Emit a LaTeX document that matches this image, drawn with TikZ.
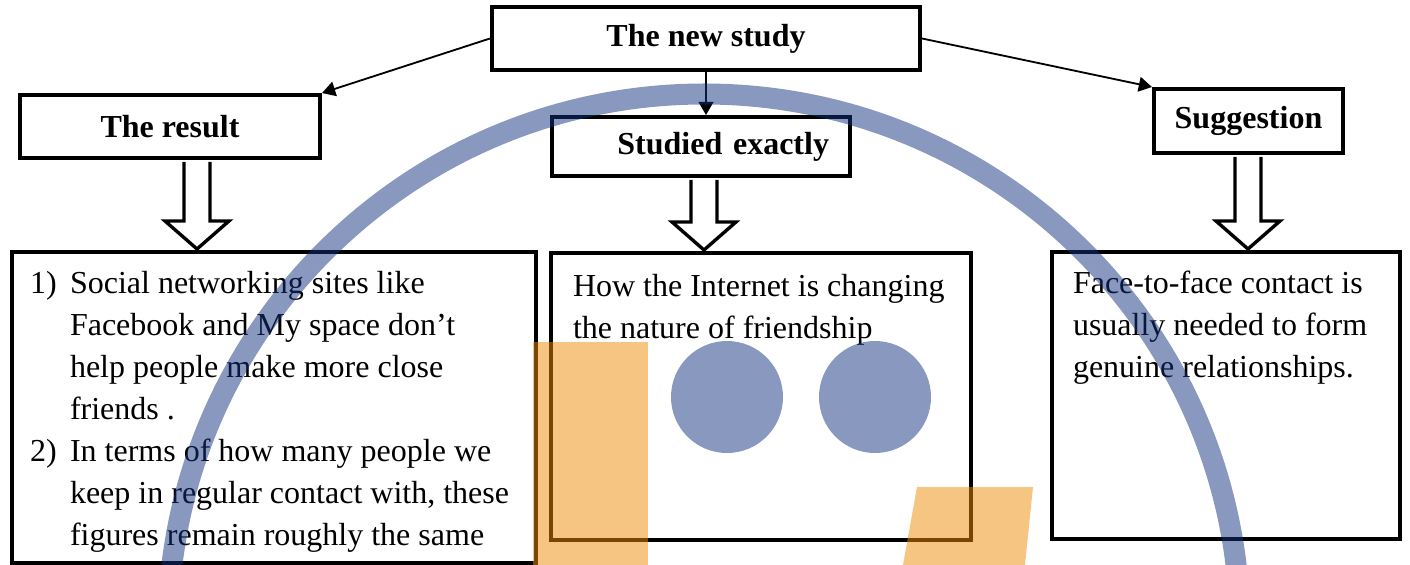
\documentclass[tikz,border=0pt]{standalone}
\usepackage{fontspec}
\setmainfont{Liberation Serif}
\usetikzlibrary{calc,arrows.meta}
\definecolor{wmblue}{RGB}{19,49,125}
\definecolor{wmorange}{RGB}{240,140,5}
\newcommand{\mainsize}{\fontsize{22.76pt}{29.9pt}\selectfont}

% hollow block arrow: from node, to node, x position
\newcommand{\hollowdown}[3]{%
  \coordinate (hx) at (#3,0);
  \draw[hollow] ($(hx |- #1.south)+(-13,2)$) -- ($(hx |- #2.north)+(-13,-31)$) -- ++(-19,0)
    -- ($(hx |- #2.north)+(0,-3)$) -- ($(hx |- #2.north)+(32,-31)$) -- ++(-19,0)
    -- ($(hx |- #1.south)+(13,2)$);
}

\begin{document}
\begin{tikzpicture}[x=0.025cm, y=-0.025cm, font=\mainsize,
  title/.style={draw, line width=2.8pt, font=\mainsize\bfseries, minimum height=1.575cm},
  contentbox/.style={draw, line width=2.8pt, anchor=north west, outer sep=0pt},
  hollow/.style={fill=white, line width=2.4pt},
  thinarrow/.style={line width=1.3pt, -{Triangle[length=0.33cm, width=0.37cm]}}]
\useasboundingbox (0,0) rectangle (1410,565);

% headings
\node[title, minimum width=10.7cm] (study) at (706,38.5) {The new study};
\node[title, minimum width=7.5cm] (result) at (170,126.5) {The result};
\node[title, minimum height=1.475cm, text width=6.4cm, align=right, inner xsep=0.525cm] (studied) at (701,146.5) {Studied exactly};
\node[title, minimum width=4.725cm, minimum height=1.6cm] (suggestion) at (1248.5,121) {Suggestion};

% text boxes
\node[contentbox, inner xsep=0.45cm, inner ysep=0.475cm] (resultbox) at (12,252)
  {\parbox[c][6.825cm][t]{12.2cm}{%
   \hangindent=1cm\hangafter=1\makebox[1cm][l]{1)}Social networking sites like\\
   Facebook and My space don’t\\ help people make more close\\ friends .\par
   \hangindent=1cm\hangafter=1\makebox[1cm][l]{2)}In terms of how many people we\\
   keep in regular contact with, these\\ figures remain roughly the same}};
\node[contentbox, inner xsep=0.55cm, inner ysep=0.525cm] (studiedbox) at (551,253)
  {\parbox[c][6.125cm][t]{9.4cm}{How the Internet is changing\\ the nature of friendship}};
\node[contentbox, inner xsep=0.525cm, inner ysep=0.475cm] (suggestbox) at (1052,252)
  {\parbox[c][6.225cm][t]{7.65cm}{Face-to-face contact is\\ usually needed to form\\ genuine relationships.}};

% arrows
\draw[thinarrow] (study.west) -- (result.north east);
\draw[thinarrow] (study.south) -- (study.south |- studied.north);
\draw[thinarrow] (study.east) -- (suggestion.north west);
\hollowdown{result}{resultbox}{197}
\hollowdown{studied}{studiedbox}{704}
\hollowdown{suggestion}{suggestbox}{1248}

% watermark
\begin{scope}
\clip (0,0) rectangle (1410,565);
\draw[wmblue, opacity=0.5, line width=0.525cm] (704,630) circle (536);
\fill[wmorange, opacity=0.5] (533,342) rectangle (648,565);
\fill[wmorange, opacity=0.5] (917,487) -- (1033,487) -- (1025,565) -- (903,565) -- cycle;
\fill[wmblue, opacity=0.5] (727,397) circle (56) (875,397) circle (56);
\end{scope}
\end{tikzpicture}
\end{document}
